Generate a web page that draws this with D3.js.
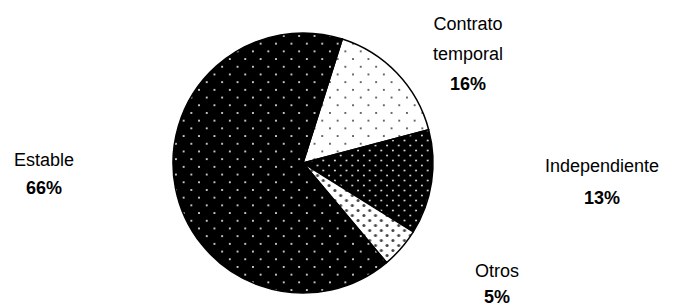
<!DOCTYPE html>
<html>
<head>
<meta charset="utf-8">
<script src="https://cdn.jsdelivr.net/npm/d3@7"></script>
<style>
  body { margin: 0; background: #fff; }
  svg { display: block; }
  text { font-family: "Liberation Sans", Arial, sans-serif; fill: #000; }
</style>
</head>
<body>
<svg id="chart" width="677" height="304"></svg>
<script>
// slices in drawing order, clockwise from the top-right
const categories = ["Contrato temporal", "Independiente", "Otros", "Estable"]
const values = [16, 13, 5, 66]
const labelLines = [["Contrato", "temporal"], ["Independiente"], ["Otros"], ["Estable"]]
const percentLabels = ["16%", "13%", "5%", "66%"]
const patternIds = ["p-sparse-light", "p-dense-dark", "p-dense-light", "p-sparse-dark"]

const svg = d3.select('#chart')
const cx = 303, cy = 163, radius = 130

const defs = svg.append('defs')

function dotPattern(id, size, bg, fg, r, dy) {
  const p = defs.append('pattern')
    .attr('id', id)
    .attr('patternUnits', 'userSpaceOnUse')
    .attr('width', size)
    .attr('height', dy * 2)
  p.append('rect').attr('width', size).attr('height', dy * 2).attr('fill', bg)
  p.append('circle').attr('cx', size / 4).attr('cy', dy / 2).attr('r', r).attr('fill', fg)
  p.append('circle').attr('cx', size * 3 / 4).attr('cy', dy * 1.5).attr('r', r).attr('fill', fg)
}

dotPattern('p-sparse-dark', 15.4, '#000', '#fff', 1.0, 7.7)
dotPattern('p-sparse-light', 15.4, '#fff', '#222', 0.9, 7.7)
dotPattern('p-dense-dark', 11.6, '#000', '#ddd', 1.0, 5)
dotPattern('p-dense-light', 11.6, '#fff', '#444', 1.5, 5)

// the title is cut off by the top of the picture; only the parentheses tails show
svg.append('text')
  .attr('x', 342)
  .attr('y', -3)
  .attr('text-anchor', 'middle')
  .style('font-size', '15px')
  .text('(en porcentaje)')

const pie = d3.pie()
  .sort(null)
  .startAngle(17.6 * Math.PI / 180)
  .endAngle(17.6 * Math.PI / 180 + 2 * Math.PI)

const arc = d3.arc().innerRadius(0).outerRadius(radius)
const arcs = pie(values)

const g = svg.append('g').attr('transform', `translate(${cx},${cy})`)

g.selectAll('path')
  .data(arcs)
  .enter()
  .append('path')
  .attr('d', arc)
  .attr('fill', (d, i) => `url(#${patternIds[i]})`)
  .attr('stroke', '#000')
  .attr('stroke-width', 1.5)
  .attr('stroke-linejoin', 'round')

// label anchors (centre x, first baseline, line step)
const labelPos = [
  { x: 468, y: 30, step: 30 },
  { x: 602, y: 172, step: 32 },
  { x: 497, y: 277, step: 26 },
  { x: 44, y: 166, step: 28 }
]

const labels = svg.selectAll('g.label')
  .data(arcs)
  .enter()
  .append('g')
  .attr('class', 'label')

labels.each(function(d, i) {
  const pos = labelPos[i]
  const t = d3.select(this)
  const lines = labelLines[i]
  lines.forEach((line, j) => {
    t.append('text')
      .attr('x', pos.x)
      .attr('y', pos.y + j * pos.step)
      .attr('text-anchor', 'middle')
      .style('font-size', '18px')
      .text(line)
  })
  t.append('text')
    .attr('x', pos.x)
    .attr('y', pos.y + lines.length * pos.step)
    .attr('text-anchor', 'middle')
    .style('font-size', '18px')
    .style('font-weight', 'bold')
    .text(percentLabels[i])
})
</script>
</body>
</html>
